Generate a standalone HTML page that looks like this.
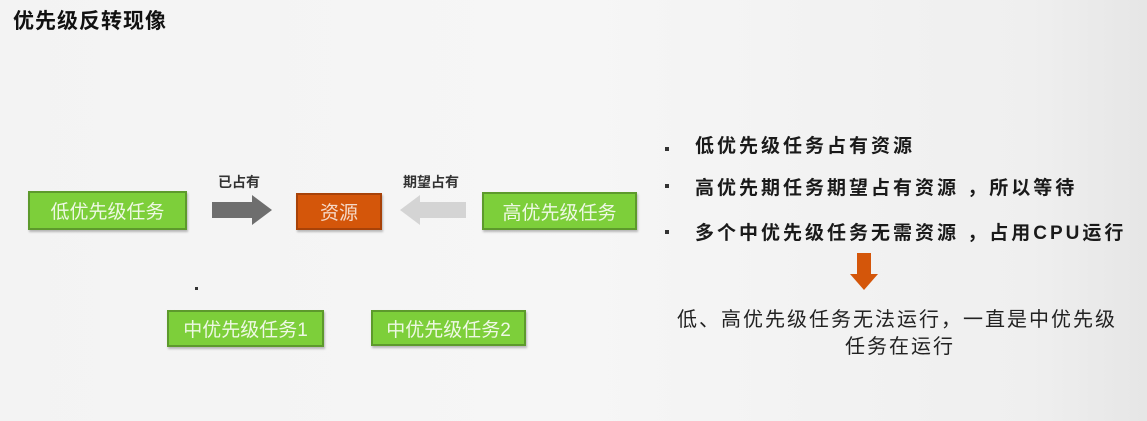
<!DOCTYPE html>
<html><head><meta charset="utf-8"><style>
body{margin:0;width:1147px;height:421px;overflow:hidden;background:linear-gradient(90deg,#f3f3f3 0%,#f6f6f6 50%,#efefef 90%,#e6e6e6 100%);font-family:"Liberation Sans","Noto Sans CJK SC",sans-serif;position:relative}
.a{position:absolute;white-space:nowrap}
.box{position:absolute;background:#7dcf3a;border:2px solid #5d9a2c;box-shadow:1px 2px 2px rgba(0,0,0,.25);color:#eef8e4;font-size:19px;display:flex;align-items:center;justify-content:center;box-sizing:border-box}
.lbl{font-size:14px;color:#333;font-weight:bold}
.b{font-size:19px;color:#1a1a1a;letter-spacing:3px;font-weight:bold}
</style></head><body>
<div class="a" style="left:13px;top:5px;font-size:21px;font-weight:bold;color:#111;letter-spacing:1px">优先级反转现像</div>

<div class="box" style="left:28px;top:191px;width:159px;height:39px">低优先级任务</div>
<div class="a lbl" style="left:218px;top:172px">已占有</div>
<svg class="a" style="left:210px;top:194px" width="64" height="34"><polygon points="2,8 42,8 42,1 62,16 42,31 42,24 2,24" fill="#6e6e6e"/></svg>
<div class="box" style="left:296px;top:193px;width:86px;height:37px;background:#d4560a;border-color:#a84208;color:#f5d9c8">资源</div>
<div class="a lbl" style="left:403px;top:172px">期望占有</div>
<svg class="a" style="left:398px;top:194px" width="70" height="34"><polygon points="68,8 22,8 22,1 2,16 22,31 22,24 68,24" fill="#d4d4d4"/></svg>
<div class="box" style="left:482px;top:192px;width:155px;height:38px">高优先级任务</div>

<div class="a" style="left:195px;top:287px;width:3px;height:3px;background:#333"></div>
<div class="box" style="left:167px;top:310px;width:157px;height:37px">中优先级任务1</div>
<div class="box" style="left:371px;top:310px;width:155px;height:36px">中优先级任务2</div>

<div class="a" style="left:665px;top:147px;width:4px;height:4px;background:#333"></div>
<div class="a b" style="left:695px;top:131px">低优先级任务占有资源</div>
<div class="a" style="left:665px;top:184px;width:4px;height:4px;background:#333"></div>
<div class="a b" style="left:695px;top:173px">高优先期任务期望占有资源 ，所以等待</div>
<div class="a" style="left:665px;top:230px;width:4px;height:4px;background:#333"></div>
<div class="a b" style="left:695px;top:218px">多个中优先级任务无需资源 ，占用CPU运行</div>

<svg class="a" style="left:848px;top:252px" width="32" height="40"><polygon points="9,1 23,1 23,22 30,22 16,38 2,22 9,22" fill="#d4560a"/></svg>

<div class="a" style="left:677px;top:303px;font-size:20px;color:#222;letter-spacing:2px">低、高优先级任务无法运行，一直是中优先级</div>
<div class="a" style="left:845px;top:330px;font-size:20px;color:#222;letter-spacing:2px">任务在运行</div>
</body></html>
